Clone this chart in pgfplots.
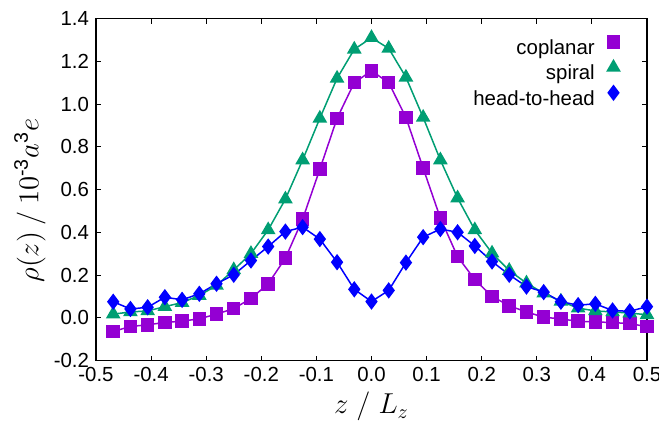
\documentclass[border=0pt]{standalone}
\usepackage{amsmath}
\usepackage{pgfplots}
\pgfplotsset{compat=1.18}
\usepackage{fontspec}
\setmainfont{Liberation Sans}
\definecolor{cpl}{HTML}{9400D3}
\definecolor{spi}{HTML}{009E73}
\definecolor{hth}{HTML}{0000FF}
\pgfplotstableread{
z cop spi hth
-0.46875 -0.064 0.017 0.075
-0.43750 -0.041 0.027 0.041
-0.40625 -0.033 0.032 0.049
-0.37500 -0.022 0.052 0.096
-0.34375 -0.016 0.071 0.084
-0.31250 -0.005 0.104 0.112
-0.28125 0.017 0.151 0.159
-0.25000 0.043 0.224 0.201
-0.21875 0.090 0.300 0.268
-0.18750 0.159 0.411 0.333
-0.15625 0.279 0.555 0.403
-0.12500 0.461 0.738 0.424
-0.09375 0.695 0.933 0.368
-0.06250 0.933 1.120 0.260
-0.03125 1.100 1.256 0.133
0.00000 1.155 1.310 0.076
0.03125 1.100 1.260 0.128
0.06250 0.937 1.125 0.258
0.09375 0.700 0.937 0.377
0.12500 0.466 0.738 0.415
0.15625 0.286 0.560 0.400
0.18750 0.178 0.411 0.336
0.21875 0.100 0.302 0.263
0.25000 0.056 0.221 0.201
0.28125 0.027 0.162 0.146
0.31250 0.003 0.115 0.120
0.34375 -0.006 0.077 0.075
0.37500 -0.016 0.045 0.059
0.40625 -0.020 0.032 0.065
0.43750 -0.022 0.027 0.034
0.46875 -0.028 0.022 0.030
0.50000 -0.041 0.014 0.052
}\data
\begin{document}
\begin{tikzpicture}
\begin{axis}[
  scale only axis, width=275.5pt, height=171pt,
  xmin=-0.5, xmax=0.5, ymin=-0.2, ymax=1.4,
  xtick={-0.5,-0.4,-0.3,-0.2,-0.1,0,0.1,0.2,0.3,0.4,0.5},
  ytick={-0.2,0,0.2,0.4,0.6,0.8,1.0,1.2,1.4},
  tick align=inside, major tick length=2.5pt,
  axis line style={line width=0.75pt},
  every tick/.style={black, line width=0.5pt},
  tick label style={font=\fontsize{10.2}{12}\selectfont},
  xticklabel style={/pgf/number format/.cd, fixed, fixed zerofill, precision=1, assume math mode=true},
  yticklabel style={/pgf/number format/.cd, fixed, fixed zerofill, precision=1, assume math mode=true},
  xlabel={$z\;/\;L_{z}$},
  ylabel={$\rho(z)\:/\:10^{\text{-3}}a^{\text{3}}e$},
  label style={font=\fontsize{14}{16}\selectfont},
  xlabel style={at={(axis description cs:0.5,-0.1345)}, anchor=center},
  ylabel style={at={(axis description cs:-0.12,0.468)}, anchor=center},
  legend style={draw=none, fill=none, inner sep=0pt, at={(0.954,0.95)}, anchor=north east,
    font=\fontsize{10.2}{12}\selectfont, row sep=0.6pt,
    nodes={inner sep=0pt, text height=7.5pt, text depth=2.5pt}},
  legend cell align=right, legend plot pos=right,
  legend image code/.code={\path (-9pt,0pt) (3.5pt,0pt); \draw[#1] plot[only marks] coordinates {(0pt,3.6pt)};},
]
\addplot[cpl, line width=0.75pt, mark=square*, mark size=3pt] table[x=z,y=cop] {\data};
\addlegendentry{coplanar}
\addplot[spi, line width=0.75pt, mark=triangle*, mark size=3.5pt] table[x=z,y=spi] {\data};
\addlegendentry{spiral}
\addplot[hth, line width=0.75pt, mark=diamond*, mark size=3.5pt] table[x=z,y=hth] {\data};
\addlegendentry{head-to-head}
\end{axis}
\pgfresetboundingbox
\path ([shift={(-48pt,-31.65pt)}]current axis.south west) rectangle ([shift={(6pt,9.25pt)}]current axis.north east);
\end{tikzpicture}
\end{document}
